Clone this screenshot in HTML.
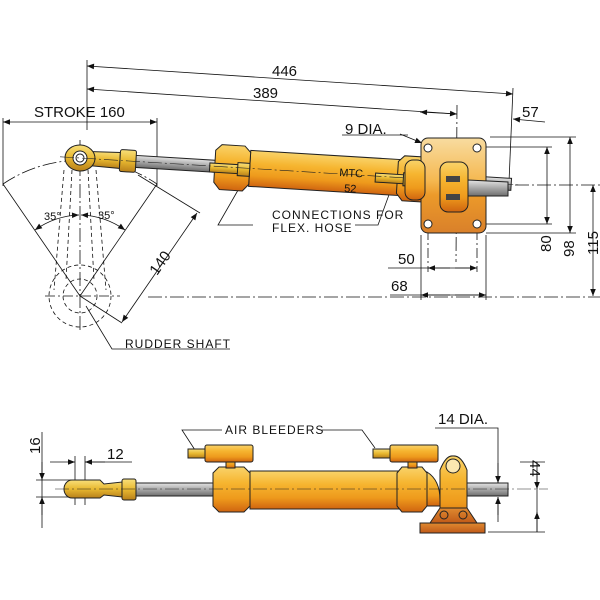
<!DOCTYPE html>
<html><head><meta charset="utf-8"><style>
html,body{margin:0;padding:0;background:#fff;}
svg{display:block;}
text{font-family:"Liberation Sans",sans-serif;fill:#111;}
</style></head><body>
<svg width="600" height="600" viewBox="0 0 600 600" xmlns="http://www.w3.org/2000/svg">
<defs>
<linearGradient id="org" x1="0" y1="0" x2="0" y2="1">
<stop offset="0" stop-color="#f9d36a"/><stop offset="0.35" stop-color="#f6b530"/><stop offset="0.7" stop-color="#ee9a1c"/><stop offset="1" stop-color="#cf6410"/></linearGradient>
<linearGradient id="gold" x1="0" y1="0" x2="0" y2="1">
<stop offset="0" stop-color="#f8df7a"/><stop offset="0.5" stop-color="#e8b830"/><stop offset="1" stop-color="#b8801a"/></linearGradient>
<linearGradient id="rod" x1="0" y1="0" x2="0" y2="1">
<stop offset="0" stop-color="#e4e4e4"/><stop offset="0.5" stop-color="#a8a8a8"/><stop offset="1" stop-color="#6e6e6e"/></linearGradient>
<linearGradient id="plate" x1="0" y1="0" x2="0" y2="1">
<stop offset="0" stop-color="#f8dca0"/><stop offset="0.45" stop-color="#f5b850"/><stop offset="0.6" stop-color="#ec9a2a"/><stop offset="1" stop-color="#d9802a"/></linearGradient>
<linearGradient id="brk" x1="0" y1="0" x2="0" y2="1">
<stop offset="0" stop-color="#e08a30"/><stop offset="1" stop-color="#c05a18"/></linearGradient>
<marker id="ar" viewBox="0 0 10 10" refX="10" refY="5" markerWidth="14" markerHeight="7" markerUnits="userSpaceOnUse" orient="auto-start-reverse"><path d="M0,1 L10,5 L0,9 z" fill="#111"/></marker>
</defs>

<g stroke="#111" stroke-width="0.8" fill="none">
<line x1="87" y1="60" x2="87" y2="130"/>
<line x1="87" y1="66" x2="513" y2="94" marker-start="url(#ar)" marker-end="url(#ar)"/>
<line x1="87" y1="89" x2="457" y2="114" marker-start="url(#ar)" marker-end="url(#ar)"/>
<line x1="513" y1="88" x2="509" y2="182"/>
<line x1="457" y1="105" x2="456" y2="262" stroke-dasharray="14,3,2,3"/>
<line x1="457" y1="114" x2="420" y2="112" marker-end="url(#ar)"/>
<line x1="545" y1="122" x2="513" y2="119" marker-end="url(#ar)"/>
<line x1="3" y1="118" x2="3" y2="186"/>
<line x1="157" y1="118" x2="157" y2="186"/>
<line x1="3" y1="122" x2="157" y2="122" marker-start="url(#ar)" marker-end="url(#ar)"/>
<path d="M3,184 A137,137 0 0 1 157,184" stroke-dasharray="14,3,2,3"/>
<line x1="80" y1="296" x2="3" y2="184"/>
<line x1="80" y1="296" x2="157" y2="184"/>
<line x1="80" y1="140" x2="80" y2="330" stroke-dasharray="14,3,2,3"/>
<path d="M35,230 A81,81 0 0 1 79,215" marker-start="url(#ar)" marker-end="url(#ar)"/>
<path d="M81,215 A81,81 0 0 1 125,230" marker-start="url(#ar)" marker-end="url(#ar)"/>
<circle cx="80" cy="296" r="31" stroke-dasharray="4,3"/>
<circle cx="80" cy="296" r="17" stroke-dasharray="4,3"/>
<line x1="64" y1="170" x2="54" y2="290" stroke-dasharray="4,3"/>
<line x1="96" y1="170" x2="106" y2="290" stroke-dasharray="4,3"/>
<line x1="72" y1="170" x2="66" y2="280" stroke-dasharray="4,3"/>
<line x1="88" y1="170" x2="94" y2="280" stroke-dasharray="4,3"/>
<line x1="45" y1="296" x2="120" y2="296" stroke-dasharray="10,3,2,3"/>
<line x1="148" y1="297" x2="600" y2="297" stroke-dasharray="14,3,2,3"/>
<line x1="138" y1="175" x2="200" y2="213"/>
<line x1="80" y1="296" x2="122" y2="323"/>
<line x1="197" y1="213" x2="122" y2="322" marker-start="url(#ar)" marker-end="url(#ar)"/>
<polyline points="86,306 112,349 230,349"/>
<polyline points="245,178 218,225 253,225"/>
<polyline points="390,192 378,225 355,225"/>
<polyline points="342,135 408,135"/>
<line x1="400" y1="134" x2="422" y2="143" marker-end="url(#ar)"/>
<line x1="490" y1="137" x2="576" y2="137"/>
<line x1="486" y1="147" x2="552" y2="147"/>
<line x1="486" y1="224" x2="552" y2="224"/>
<line x1="486" y1="233" x2="576" y2="233"/>
<line x1="515" y1="185" x2="600" y2="185" stroke-dasharray="14,3,2,3"/>
<line x1="547" y1="147" x2="547" y2="224" marker-start="url(#ar)" marker-end="url(#ar)"/>
<line x1="570" y1="137" x2="570" y2="233" marker-start="url(#ar)" marker-end="url(#ar)"/>
<line x1="593" y1="185" x2="593" y2="296" marker-start="url(#ar)" marker-end="url(#ar)"/>
<line x1="428" y1="230" x2="428" y2="272" stroke-dasharray="10,3,2,3"/>
<line x1="477" y1="230" x2="477" y2="272" stroke-dasharray="10,3,2,3"/>
<line x1="421" y1="235" x2="421" y2="300"/>
<line x1="486" y1="235" x2="486" y2="300"/>
<line x1="388" y1="268" x2="477" y2="268"/>
<line x1="428" y1="268" x2="450" y2="268" marker-start="url(#ar)"/>
<line x1="455" y1="268" x2="477" y2="268" marker-end="url(#ar)"/>
<line x1="390" y1="295" x2="486" y2="295"/>
<line x1="421" y1="295" x2="450" y2="295" marker-start="url(#ar)"/>
<line x1="455" y1="295" x2="486" y2="295" marker-end="url(#ar)"/>
</g>

<!-- top cylinder -->
<g transform="translate(80,0) rotate(3.5 0 158)" stroke="#222" stroke-width="1">
<rect x="55" y="152" width="82" height="12" fill="url(#rod)"/>
<rect x="352" y="152" width="80" height="12" fill="url(#rod)"/>
<path d="M8,151 L40,150 L40,166 L8,165 Z" fill="url(#gold)"/>
<rect x="40" y="147" width="16" height="22" rx="2" fill="url(#gold)"/>
<ellipse cx="0" cy="158" rx="15" ry="13" fill="url(#gold)"/>
<circle cx="0" cy="158" r="7" fill="#fff"/>
<circle cx="0" cy="158" r="4" fill="none"/>
<rect x="170" y="140" width="150" height="36" fill="url(#org)"/>
<path d="M135,142 L141,136 L164,136 L170,142 L170,174 L164,181 L141,181 L135,174 Z" fill="url(#org)"/>
<path d="M318,142 L324,136 L346,136 L352,142 L352,174 L346,181 L324,181 L318,174 Z" fill="url(#org)"/>
<rect x="130" y="155" width="30" height="9" fill="url(#gold)"/>
<rect x="158" y="153" width="12" height="13" fill="url(#gold)"/>
<rect x="296" y="155" width="30" height="9" fill="url(#gold)"/>
<rect x="324" y="153" width="12" height="13" fill="url(#gold)"/>
<line x1="-20" y1="158" x2="440" y2="158" stroke-width="0.6" stroke-dasharray="14,3,2,3"/>
</g>
<text x="339" y="176" font-size="11" transform="rotate(3.5 340 177)">MTC</text>
<text x="344" y="192" font-size="11" transform="rotate(3.5 345 191)">52</text>
<rect x="421" y="138" width="65" height="95" rx="7" fill="url(#plate)" stroke="#222"/>
<g fill="#fff" stroke="#222"><circle cx="428" cy="148" r="4"/><circle cx="477" cy="148" r="4"/><circle cx="428" cy="224" r="4"/><circle cx="477" cy="224" r="4"/></g>
<rect x="405" y="160" width="20" height="40" rx="8" fill="url(#org)" stroke="#222"/>
<path d="M468,180 L508,182 L508,196 L468,196 Z" fill="url(#rod)" stroke="#222"/>
<rect x="440" y="162" width="28" height="50" rx="8" fill="url(#org)" stroke="#222"/>
<rect x="446" y="176" width="14" height="6" fill="#444"/>
<rect x="446" y="194" width="14" height="6" fill="#444"/>

<g font-size="15">
<text x="272" y="76">446</text>
<text x="253" y="98">389</text>
<text x="522" y="117">57</text>
<text x="34" y="117">STROKE 160</text>
<text x="345" y="134">9 DIA.</text>
<text x="398" y="264">50</text>
<text x="391" y="291">68</text>
<text x="0" y="0" transform="translate(551,252) rotate(-90)">80</text>
<text x="0" y="0" transform="translate(574,257) rotate(-90)">98</text>
<text x="0" y="0" transform="translate(598,255) rotate(-90)">115</text>
<text x="0" y="0" transform="translate(157,276) rotate(-55)">140</text>
</g>
<g font-size="11">
<text x="44" y="220">35°</text>
<text x="98" y="219">35°</text>
</g>
<g font-size="12" letter-spacing="1">
<text x="272" y="219">CONNECTIONS FOR</text>
<text x="272" y="232">FLEX. HOSE</text>
<text x="125" y="348">RUDDER SHAFT</text>
<text x="225" y="434">AIR BLEEDERS</text>
</g>

<!-- bottom view -->
<g stroke="#111" stroke-width="0.8" fill="none">
<polyline points="222,430 182,430 195,450"/>
<polyline points="322,430 362,430 375,448"/>
<line x1="42" y1="432" x2="42" y2="528"/>
<line x1="42" y1="462" x2="42" y2="480" marker-end="url(#ar)"/>
<line x1="42" y1="515" x2="42" y2="497" marker-end="url(#ar)"/>
<line x1="36" y1="480" x2="72" y2="480"/>
<line x1="36" y1="497" x2="72" y2="497"/>
<line x1="50" y1="462" x2="75" y2="462" marker-end="url(#ar)"/>
<line x1="105" y1="462" x2="85" y2="462" marker-end="url(#ar)"/>
<line x1="85" y1="462" x2="132" y2="462"/>
<line x1="75" y1="456" x2="75" y2="505"/>
<line x1="85" y1="456" x2="85" y2="505"/>
<polyline points="435,428 498,428 498,483"/>
<line x1="498" y1="463" x2="498" y2="483" marker-end="url(#ar)"/>
<line x1="498" y1="515" x2="498" y2="497" marker-end="url(#ar)"/>
<line x1="498" y1="497" x2="498" y2="522"/>
<line x1="520" y1="462" x2="545" y2="462"/>
<line x1="488" y1="532" x2="545" y2="532"/>
<line x1="537" y1="462" x2="537" y2="532"/>
<line x1="537" y1="472" x2="537" y2="489" marker-end="url(#ar)"/>
<line x1="537" y1="512" x2="537" y2="532" marker-start="url(#ar)"/>
</g>
<g stroke="#222" stroke-width="1">
<rect x="136" y="483" width="78" height="13" fill="url(#rod)"/>
<rect x="465" y="483" width="43" height="13" fill="url(#rod)"/>
<path d="M72,480 L100,480 L104,484 L122,482 L122,497 L104,495 L100,498 L72,498 A8,9 0 0 1 72,480 Z" fill="url(#gold)"/>
<rect x="122" y="479" width="14" height="21" rx="2" fill="url(#gold)"/>
<rect x="250" y="471" width="150" height="38" fill="url(#org)"/>
<path d="M213,473 L219,467 L244,467 L250,473 L250,506 L244,512 L219,512 L213,506 Z" fill="url(#org)"/>
<path d="M397,473 L402,467 L422,467 L427,473 L427,506 L422,512 L402,512 L397,506 Z" fill="url(#org)"/>
<path d="M427,472 Q440,480 440,500 L440,506 L427,506 Z" fill="url(#org)"/>
<rect x="420" y="523" width="65" height="10" fill="url(#brk)"/>
<path d="M440,523 L440,470 Q446,455 453,456 Q461,455 467,470 L467,523 Z" fill="url(#org)"/>
<path d="M430,523 L440,508 L467,508 L477,523 Z" fill="url(#brk)"/>
<circle cx="453" cy="466" r="7" fill="#fbe7b0"/>
<circle cx="444" cy="515" r="4" fill="none"/><circle cx="463" cy="515" r="4" fill="none"/>
<rect x="226" y="458" width="9" height="10" fill="url(#org)"/>
<rect x="205" y="445" width="48" height="17" rx="2" fill="url(#org)"/>
<rect x="188" y="449" width="17" height="9" fill="url(#gold)"/>
<rect x="408" y="458" width="9" height="10" fill="url(#org)"/>
<rect x="390" y="445" width="48" height="17" rx="2" fill="url(#org)"/>
<rect x="373" y="449" width="17" height="9" fill="url(#gold)"/>
<line x1="55" y1="489" x2="548" y2="489" stroke-width="0.6" stroke-dasharray="14,3,2,3"/>
</g>
<g font-size="15">
<text x="0" y="0" transform="translate(40,454) rotate(-90)">16</text>
<text x="107" y="459">12</text>
<text x="438" y="424">14 DIA.</text>
<text x="0" y="0" transform="translate(530,460) rotate(90)">44</text>
</g>
</svg>
</body></html>
